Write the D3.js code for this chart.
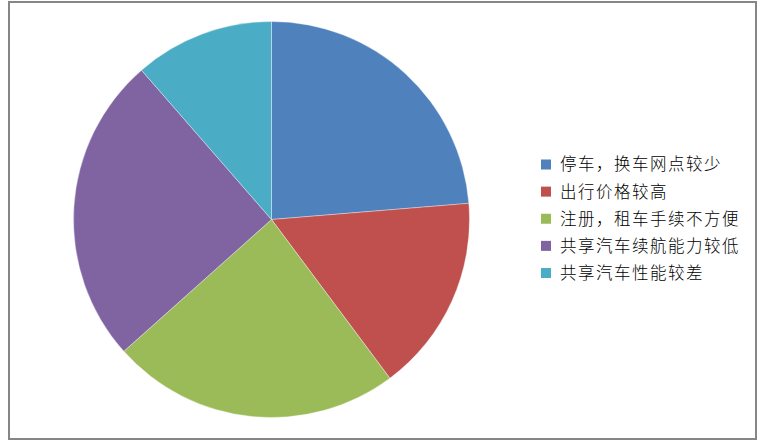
<!DOCTYPE html>
<html>
<head>
<meta charset="utf-8">
<script src="https://cdn.jsdelivr.net/npm/d3@7"></script>
<style>
  body { margin: 0; background: #fff; }
  svg { display: block; }
</style>
</head>
<body>
<svg id="chart" width="766" height="447"></svg>
<script>
// shares (percent), clockwise from 12 o'clock
const categories = ["停车，换车网点较少", "出行价格较高", "注册，租车手续不方便", "共享汽车续航能力较低", "共享汽车性能较差"];
const shares = [23.7, 16.1, 23.6, 25.2, 11.4];
const colors = ["#4F81BD", "#C0504D", "#9BBB59", "#8064A2", "#4BACC6"];

const svg = d3.select("#chart");

// chart frame
svg.append("rect")
    .attr("x", 9)
    .attr("y", 2)
    .attr("width", 747)
    .attr("height", 437)
    .attr("fill", "none")
    .attr("stroke", "#868686")
    .attr("stroke-width", 2);

const cx = 271.5, cy = 219.5, radius = 198;

const pie = d3.pie().sort(null).value(d => d);
const arc = d3.arc().innerRadius(0).outerRadius(radius);

const pieGroup = svg.append("g")
    .attr("transform", `translate(${cx},${cy})`);

pieGroup.selectAll("path")
    .data(pie(shares))
    .join("path")
    .attr("d", arc)
    .attr("fill", (d, i) => colors[i])
    .attr("stroke", "#ffffff")
    .attr("stroke-opacity", 0.6)
    .attr("stroke-width", 0.6);

// legend
const legendY = d3.scalePoint()
    .domain(categories)
    .range([164.5, 273]);

const legend = svg.append("g");
const rows = legend.selectAll("g")
    .data(categories)
    .join("g")
    .attr("transform", d => `translate(541,${legendY(d)})`);

rows.append("rect")
    .attr("x", 0)
    .attr("y", -5)
    .attr("width", 10)
    .attr("height", 10)
    .attr("fill", (d, i) => colors[i]);

rows.append("text")
    .attr("x", 19)
    .attr("y", 0)
    .attr("dy", "0.36em")
    .attr("font-family", "'Noto Sans CJK SC', sans-serif")
    .attr("font-size", 16.5)
    .attr("font-weight", 300)
    .attr("letter-spacing", 1.5)
    .attr("fill", "#000")
    .text(d => d);
</script>
</body>
</html>
